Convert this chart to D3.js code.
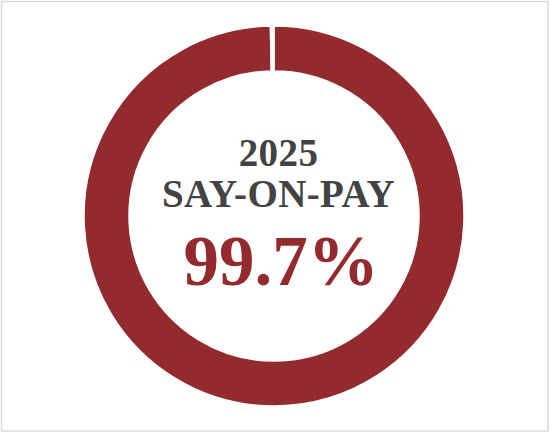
<!DOCTYPE html>
<html>
<head>
<meta charset="utf-8">
<script src="https://d3js.org/d3.v7.min.js"></script>
<style>
  body { margin: 0; background: #fff; }
</style>
</head>
<body>
<div id="chart"></div>
<script>
// say-on-pay result, share of votes for vs rest
var labels = ["For", "Other"];
var values = [99.7, 0.3];
var titleLines = ["2025", "SAY-ON-PAY"];
var bigLabel = "99.7%";

var width = 550, height = 433;
var svg = d3.select("#chart").append("svg")
  .attr("width", width)
  .attr("height", height);

// outer frame
svg.append("rect")
  .attr("x", 1.5).attr("y", 1.5)
  .attr("width", width - 3.5).attr("height", height - 3.5)
  .attr("fill", "#fff")
  .attr("stroke", "#d9d9d9")
  .attr("stroke-width", 1.5);

var cx = 274, cy = 216;
var pie = d3.pie().sort(null).value(function (d) { return d; });
var arc = d3.arc().innerRadius(145).outerRadius(190);
var colors = ["#922a2e", "#ffffff"];

var g = svg.append("g").attr("transform", "translate(" + cx + "," + cy + ")");
g.selectAll("path")
  .data(pie(values))
  .enter()
  .append("path")
    .attr("d", arc)
    .attr("fill", function (d, i) { return colors[i]; })
    .attr("stroke", "#fff")
    .attr("stroke-width", 1.5);

// center text
svg.selectAll("text.title")
  .data(titleLines)
  .enter()
  .append("text")
    .attr("class", "title")
    .attr("x", 278.5)
    .attr("y", function (d, i) { return 166 + i * 41; })
    .attr("text-anchor", "middle")
    .style("font-family", "'Liberation Serif', 'Times New Roman', serif")
    .style("font-weight", "bold")
    .style("font-size", "39px")
    .style("letter-spacing", "0.4px")
    .style("fill", "#434343")
    .text(function (d) { return d; });

svg.append("text")
  .attr("x", 281)
  .attr("y", 285)
  .attr("text-anchor", "middle")
  .style("font-family", "'Liberation Serif', 'Times New Roman', serif")
  .style("font-weight", "bold")
  .style("font-size", "71px")
  .style("fill", "#922a2e")
  .text(bigLabel);
</script>
</body>
</html>
